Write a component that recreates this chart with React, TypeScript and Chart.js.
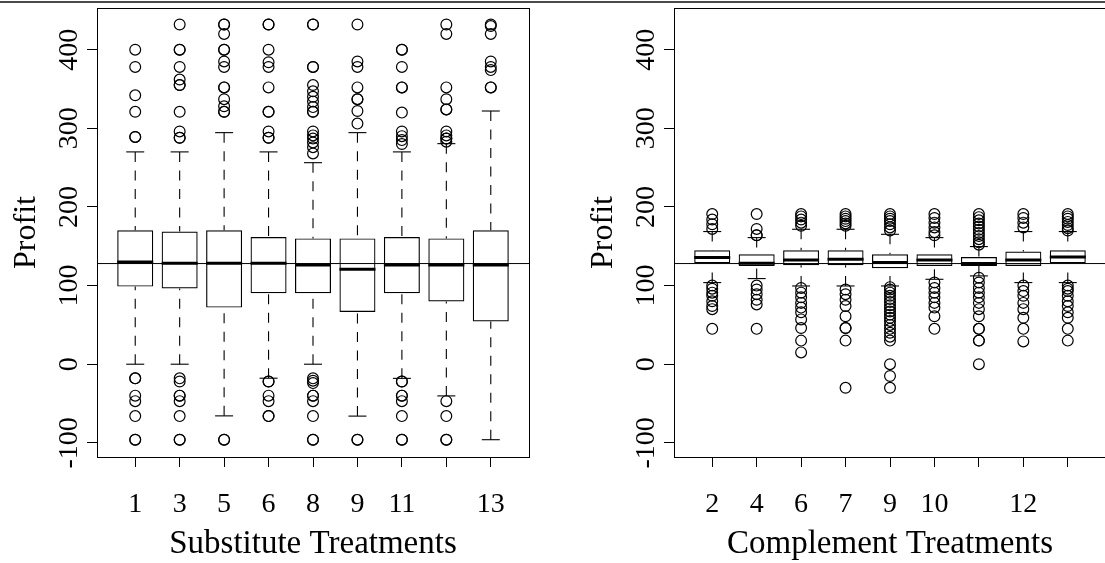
import React, { useEffect, useRef } from "react";
import { Chart, registerables } from "chart.js";

Chart.register(...registerables);

const FONT = '"Liberation Serif", "Times New Roman", serif';

// ---------- Substitute treatments (left panel) ----------
const subLabels = ["1", "3", "5", "6", "8", "9", "11", "", "13"];
const subLow = [0, 0, -65.7, -17.8, 0, -66, -18, -40.3, -96];
const subQ1 = [98.7, 96.2, 72, 90.2, 90.2, 66.5, 90.2, 79.7, 54.3];
const subMedian = [130, 128.4, 128.4, 128.4, 126.2, 120.8, 126.2, 126.2, 126.2];
const subQ3 = [170.3, 168.7, 170.3, 161.8, 160, 160, 161.8, 160, 170.3];
const subHigh = [270, 270, 294.5, 270, 256.3, 294.5, 270, 280.5, 322];
const subOutliers = [
  [400, 378, 342, 321, 289, 289, -18, -18, -40, -47, -66, -96, -96],
  [432, 400, 400, 378, 362, 355, 355, 321, 296, 288, 288, -18, -22, -40, -40, -47, -66, -96, -96],
  [432, 432, 420, 400, 400, 385, 378, 352, 352, 337, 328, 321, 321, -96, -96],
  [432, 432, 400, 384, 378, 352, 321, 321, 296, 288, 288, -22, -22, -40, -47, -66, -66],
  [432, 432, 378, 378, 355, 347, 340, 334, 327, 321, 321, 296, 291, 287, 282, 276, 268, -18, -21, -24, -40, -40, -47, -66, -96, -96],
  [432, 385, 378, 352, 337, 337, 322, 306, -96, -96],
  [400, 400, 378, 352, 352, 320, 296, 290, 285, 280, -22, -22, -40, -40, -47, -66, -96, -96],
  [432, 420, 352, 337, 324, 324, 296, 291, 287, 287, 283, -47, -66, -96, -96],
  [432, 430, 420, 385, 378, 374, 352, 352],
];

// ---------- Complement treatments (right panel) ----------
const compLabels = ["2", "4", "6", "7", "9", "10", "", "12", ""];
const compLow = [103.8, 108.9, 99.5, 99.5, 99.5, 108, 112.3, 103.8, 103.8];
const compQ1 = [128.4, 125, 126, 126, 122.1, 125, 125, 125, 128.4];
const compMedian = [135.6, 128.4, 132.4, 133.5, 129.3, 132.4, 128, 132.4, 136.5];
const compQ3 = [145, 139.8, 145, 145, 139.8, 139.8, 136.4, 143.2, 145];
const compHigh = [168.7, 161, 171.6, 171.6, 165.2, 161, 149.6, 168.7, 168.7];
const compOutliers = [
  [191, 184, 178, 172, 100, 96, 91, 87, 80, 74, 70, 45],
  [191, 172, 164, 164, 100, 95, 89, 82, 76, 45],
  [191, 188, 184, 180, 176, 97, 91, 85, 78, 72, 66, 57, 46, 30, 15],
  [191, 188, 185, 182, 179, 176, 95, 89, 82, 74, 61, 46, 46, 30, -30],
  [191, 188, 185, 182, 178, 174, 170, 98, 95, 91, 87, 83, 79, 75, 71, 67, 63, 59, 55, 50, 45, 40, 35, 30, 0, -15, -30],
  [191, 186, 180, 174, 168, 164, 104, 97, 91, 85, 78, 72, 61, 45],
  [191, 187, 183, 179, 175, 171, 167, 163, 159, 155, 152, 110, 104, 97, 91, 85, 78, 70, 61, 45, 45, 30, 30, 0],
  [191, 186, 180, 174, 100, 93, 87, 78, 70, 59, 45, 29],
  [191, 188, 185, 181, 177, 173, 170, 100, 96, 93, 87, 80, 74, 66, 59, 45, 30],
];

const yTicks = [-100, 0, 100, 200, 300, 400];
const yTickLabels = ["-100", "0", "100", "200", "300", "400"];
const referenceLevel = 128;
const yTitle = "Profit";

type Panel = {
  labels: string[];
  low: number[];
  q1: number[];
  median: number[];
  q3: number[];
  high: number[];
  outliers: number[][];
  title: string;
};

const subPanel: Panel = {
  labels: subLabels, low: subLow, q1: subQ1, median: subMedian, q3: subQ3,
  high: subHigh, outliers: subOutliers, title: "Substitute Treatments",
};
const compPanel: Panel = {
  labels: compLabels, low: compLow, q1: compQ1, median: compMedian, q3: compQ3,
  high: compHigh, outliers: compOutliers, title: "Complement Treatments",
};

function makePlugin(p: Panel) {
  const seg = (ctx: CanvasRenderingContext2D, x1: number, y1: number, x2: number, y2: number) => {
    ctx.beginPath();
    ctx.moveTo(x1, y1);
    ctx.lineTo(x2, y2);
    ctx.stroke();
  };
  return {
    id: "rboxplot",
    afterDatasetsDraw(chart: any) {
      const { ctx, chartArea } = chart;
      const y = chart.scales.y;
      const meta = chart.getDatasetMeta(0);
      ctx.save();
      ctx.strokeStyle = "#000";
      meta.data.forEach((el: any, i: number) => {
        const cx = el.x;
        const w = el.width;
        const yHi = y.getPixelForValue(p.high[i]);
        const yLo = y.getPixelForValue(p.low[i]);
        const yQ3 = y.getPixelForValue(p.q3[i]);
        const yQ1 = y.getPixelForValue(p.q1[i]);
        const yMed = y.getPixelForValue(p.median[i]);
        ctx.lineWidth = 1.1;
        ctx.setLineDash([10, 8.5]);
        seg(ctx, cx, yHi, cx, yQ3);
        seg(ctx, cx, yLo, cx, yQ1);
        ctx.setLineDash([]);
        seg(ctx, cx - w / 4, yHi, cx + w / 4, yHi);
        seg(ctx, cx - w / 4, yLo, cx + w / 4, yLo);
        ctx.lineWidth = 3;
        seg(ctx, cx - w / 2, yMed, cx + w / 2, yMed);
      });
      ctx.lineWidth = 1;
      const yr = y.getPixelForValue(referenceLevel);
      seg(ctx, chartArea.left, yr, chartArea.right, yr);
      ctx.restore();
    },
    afterDraw(chart: any) {
      const { ctx, chartArea } = chart;
      const x = chart.scales.x;
      const y = chart.scales.y;
      const { left, right, top, bottom } = chartArea;
      ctx.save();
      ctx.strokeStyle = "#000";
      ctx.lineWidth = 1;
      ctx.strokeRect(left + 0.5, top + 0.5, right - left, bottom - top);
      ctx.fillStyle = "#000";
      // x tick labels
      ctx.font = `28px ${FONT}`;
      ctx.textAlign = "center";
      ctx.textBaseline = "alphabetic";
      p.labels.forEach((lab, i) => {
        if (!lab) return;
        ctx.fillText(lab, x.getPixelForValue(i + 1), bottom + 54.5);
      });
      // x title
      ctx.font = `33px ${FONT}`;
      ctx.fillText(p.title, (left + right) / 2, bottom + 96);
      // y tick labels (rotated)
      ctx.font = `28px ${FONT}`;
      yTicks.forEach((v, i) => {
        ctx.save();
        ctx.translate(left - 20.5, y.getPixelForValue(v));
        ctx.rotate(-Math.PI / 2);
        ctx.fillText(yTickLabels[i], 0, 0);
        ctx.restore();
      });
      // y title
      ctx.font = `32px ${FONT}`;
      ctx.save();
      ctx.translate(left - 62, (top + bottom) / 2);
      ctx.rotate(-Math.PI / 2);
      ctx.fillText(yTitle, 0, 0);
      ctx.restore();
      ctx.restore();
    },
  };
}

function BoxPanel({ panel, offset }: { panel: Panel; offset: number }) {
  const ref = useRef<HTMLCanvasElement>(null);
  useEffect(() => {
    const boxes = panel.q1.map((q, i) => ({ x: i + 1, y: [q, panel.q3[i]] }));
    const pts: { x: number; y: number }[] = [];
    panel.outliers.forEach((arr, i) => arr.forEach((v) => pts.push({ x: i + 1, y: v })));
    const chart = new Chart(ref.current as HTMLCanvasElement, {
      type: "bar",
      data: {
        datasets: [
          {
            type: "bar",
            data: boxes as any,
            backgroundColor: "rgba(0,0,0,0)",
            borderColor: "#000",
            borderWidth: 1.2,
            borderSkipped: false,
            barPercentage: 0.81,
            categoryPercentage: 1,
          },
          {
            type: "scatter",
            data: pts as any,
            pointStyle: "circle",
            pointRadius: 5.4,
            pointBorderWidth: 1.2,
            pointBorderColor: "#000",
            pointBackgroundColor: "rgba(0,0,0,0)",
            showLine: false,
          } as any,
        ],
      },
      options: {
        responsive: false,
        animation: false,
        devicePixelRatio: 1,
        layout: { padding: { top: 8, right: 47, left: 0, bottom: 0 } },
        plugins: { legend: { display: false }, tooltip: { enabled: false } },
        scales: {
          x: {
            type: "linear",
            offset: false,
            min: 0.14,
            max: 9.86,
            afterBuildTicks: (s: any) => {
              s.ticks = panel.labels.map((_, i) => ({ value: i + 1 }));
            },
            afterFit: (s: any) => {
              s.height = 106;
            },
            ticks: { display: false },
            grid: { display: true, offset: false, drawOnChartArea: false, drawTicks: true, tickLength: 10, color: "#000", lineWidth: 1 },
            border: { display: false },
          },
          y: {
            type: "linear",
            min: -118,
            max: 453,
            afterBuildTicks: (s: any) => {
              s.ticks = yTicks.map((v) => ({ value: v }));
            },
            afterFit: (s: any) => {
              s.width = 97;
            },
            ticks: { display: false },
            grid: { display: true, drawOnChartArea: false, drawTicks: true, tickLength: 10, color: "#000", lineWidth: 1 },
            border: { display: false },
          },
        },
      } as any,
      plugins: [makePlugin(panel) as any],
    });
    return () => chart.destroy();
  }, [panel]);
  return (
    <canvas
      ref={ref}
      width={576}
      height={563}
      style={{ position: "absolute", left: offset, top: 0, width: 576, height: 563 }}
    />
  );
}

export default function App() {
  return (
    <div
      style={{
        position: "fixed",
        left: 0,
        top: 0,
        width: 1105,
        height: 563,
        overflow: "hidden",
        background: "#fff",
      }}
    >
      <div style={{ position: "absolute", left: 0, top: 1, width: 1105, height: 2, background: "#4a4a4a" }} />
      <BoxPanel panel={subPanel} offset={0} />
      <BoxPanel panel={compPanel} offset={577} />
    </div>
  );
}
